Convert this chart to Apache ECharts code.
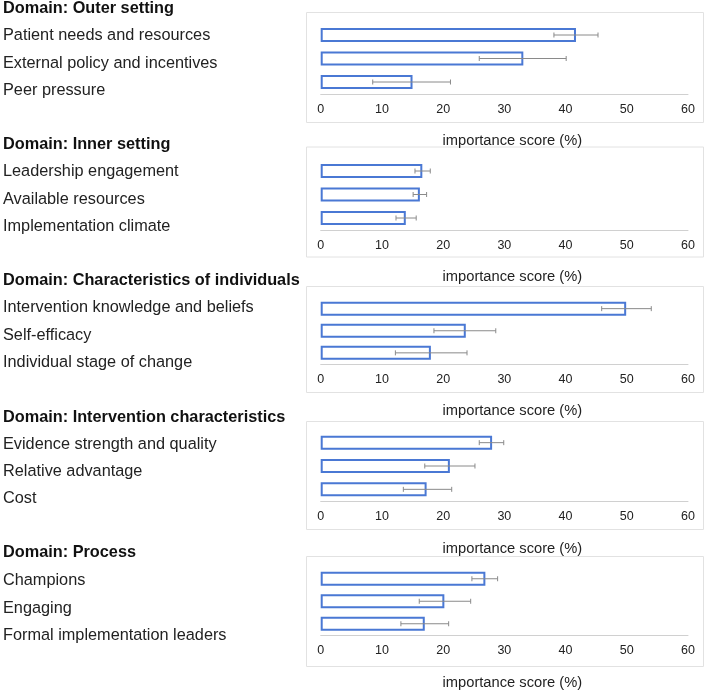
<!DOCTYPE html>
<html>
<head>
<meta charset="utf-8">
<script src="https://cdn.jsdelivr.net/npm/echarts@6/dist/echarts.min.js"></script>
<style>
html,body{margin:0;padding:0;background:#fff;}
#chart{width:709px;height:691px;}
</style>
</head>
<body>
<div id="chart"></div>
<script>
// ---- data ----
const domainTitles = ['Domain: Outer setting','Domain: Inner setting','Domain: Characteristics of individuals','Domain: Intervention characteristics','Domain: Process'];
const outerCats = ['Patient needs and resources','External policy and incentives','Peer pressure'];
const outerVals = [41.7, 33.1, 15.0];
const outerLow  = [38.1, 25.9, 8.5];
const outerHigh = [45.3, 40.1, 21.2];

const innerCats = ['Leadership engagement','Available resources','Implementation climate'];
const innerVals = [16.6, 16.2, 13.9];
const innerLow  = [15.4, 15.1, 12.3];
const innerHigh = [17.9, 17.3, 15.6];

const indivCats = ['Intervention knowledge and beliefs','Self-efficacy','Individual stage of change'];
const indivVals = [49.9, 23.7, 18.0];
const indivLow  = [45.9, 18.5, 12.2];
const indivHigh = [54.0, 28.6, 23.9];

const intervCats = ['Evidence strength and quality','Relative advantage','Cost'];
const intervVals = [28.0, 21.1, 17.3];
const intervLow  = [25.9, 17.0, 13.5];
const intervHigh = [29.9, 25.2, 21.4];

const procCats = ['Champions','Engaging','Formal implementation leaders'];
const procVals = [26.9, 20.2, 17.0];
const procLow  = [24.7, 16.1, 13.1];
const procHigh = [28.9, 24.5, 20.9];

const xTicks = {min: 0, max: 60, interval: 10};
const axisTitle = 'importance score (%)';

const panels = [
  {cats: outerCats, vals: outerVals, low: outerLow, high: outerHigh},
  {cats: innerCats, vals: innerVals, low: innerLow, high: innerHigh},
  {cats: indivCats, vals: indivVals, low: indivLow, high: indivHigh},
  {cats: intervCats, vals: intervVals, low: intervLow, high: intervHigh},
  {cats: procCats, vals: procVals, low: procLow, high: procHigh}
];

// ---- layout ----
const FONT = '"Liberation Sans", Arial, Helvetica, sans-serif';
const barGrid = [ {top: 23.25, h: 70.5}, {top: 159.25, h: 70.5}, {top: 297.6, h: 66.3}, {top: 431, h: 70}, {top: 567.5, h: 69} ];
const labelGrid = [ {top: 8.5, h: 82.5}, {top: 144.5, h: 82}, {top: 280.5, h: 82.5}, {top: 417.5, h: 81.5}, {top: 553, h: 83} ];
const frames = [ {y: 12, h: 110}, {y: 146.5, h: 110}, {y: 286, h: 106}, {y: 421, h: 108}, {y: 556, h: 110} ];

const grid = [], xAxis = [], yAxis = [], series = [], graphic = [];

panels.forEach((p, i) => {
  // bar grid
  grid.push({left: 320.7, width: 367.3, top: barGrid[i].top, height: barGrid[i].h, containLabel: false});
  xAxis.push({
    type: 'value', gridIndex: 2*i, min: xTicks.min, max: xTicks.max, interval: xTicks.interval,
    axisLine: {show: true, lineStyle: {color: '#d0d0d0', width: 1}},
    axisTick: {show: false}, splitLine: {show: false},
    axisLabel: {color: '#222', fontSize: 12.5, fontFamily: FONT, margin: 9},
    name: axisTitle, nameLocation: 'middle', nameGap: 40,
    nameTextStyle: {color: '#222', fontSize: 14.7, fontFamily: FONT, padding: [0, 0, 0, 16]}
  });
  yAxis.push({
    type: 'category', gridIndex: 2*i, data: p.cats, inverse: true,
    axisLine: {show: false}, axisTick: {show: false}, axisLabel: {show: false}, splitLine: {show: false}
  });
  // label grid
  grid.push({left: 12, width: 10, top: labelGrid[i].top, height: labelGrid[i].h});
  xAxis.push({type: 'value', gridIndex: 2*i+1, show: false});
  yAxis.push({
    type: 'category', gridIndex: 2*i+1, data: [domainTitles[i]].concat(p.cats), inverse: true, boundaryGap: false,
    axisLine: {show: false}, axisTick: {show: false}, splitLine: {show: false},
    axisLabel: {
      interval: 0, align: 'left', margin: 10,
      formatter: (v, idx) => idx === 0 ? '{b|' + v + '}' : '{n|' + v + '}',
      rich: {
        b: {fontFamily: FONT, fontSize: 16.3, fontWeight: 'bold', color: '#111'},
        n: {fontFamily: FONT, fontSize: 16.3, color: '#222'}
      }
    }
  });

  series.push({
    type: 'bar', xAxisIndex: 2*i, yAxisIndex: 2*i, data: p.vals, barWidth: 14,
    itemStyle: {color: '#ffffff', borderColor: '#4a78d4', borderWidth: 2},
    silent: true
  });
  series.push({
    type: 'custom', xAxisIndex: 2*i, yAxisIndex: 2*i,
    data: p.cats.map((c, k) => [k, p.low[k], p.high[k]]),
    renderItem: (params, api) => {
      const cat = api.value(0);
      const a = api.coord([api.value(1), cat]);
      const b = api.coord([api.value(2), cat]);
      const cap = 2.5;
      const st = {stroke: '#8a8a8a', lineWidth: 1};
      return {type: 'group', children: [
        {type: 'line', shape: {x1: a[0], y1: a[1], x2: b[0], y2: b[1]}, style: st},
        {type: 'line', shape: {x1: a[0], y1: a[1]-cap, x2: a[0], y2: a[1]+cap}, style: st},
        {type: 'line', shape: {x1: b[0], y1: b[1]-cap, x2: b[0], y2: b[1]+cap}, style: st}
      ]};
    },
    z: 5, silent: true
  });

  graphic.push({
    type: 'rect',
    shape: {x: 306.5, y: frames[i].y + 0.5, width: 397, height: frames[i].h},
    style: {fill: 'none', stroke: '#e2e2e2', lineWidth: 1}, z: -1, silent: true
  });
});

const chart = echarts.init(document.getElementById('chart'), null, {renderer: 'canvas'});
chart.setOption({
  animation: false,
  backgroundColor: '#fff',
  grid, xAxis, yAxis, series, graphic
});
</script>
</body>
</html>
